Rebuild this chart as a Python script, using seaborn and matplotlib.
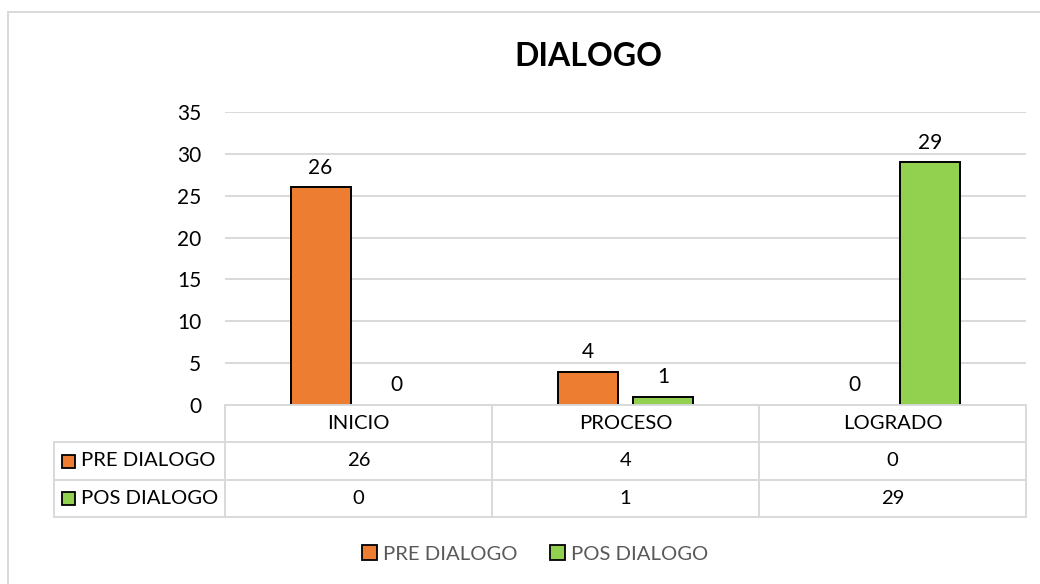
import pandas as pd
import matplotlib
matplotlib.use('Agg')
import matplotlib.pyplot as plt
import matplotlib.transforms as mtransforms
from matplotlib.lines import Line2D
from matplotlib.patches import Patch, Rectangle
import seaborn as sns

categories = ['INICIO', 'PROCESO', 'LOGRADO']
series_names = ['PRE DIALOGO', 'POS DIALOGO']
pre_values = [26, 4, 0]
pos_values = [0, 1, 29]
colors = ['#ED7D31', '#92D050']

df = pd.DataFrame({
    'categoria': categories * 2,
    'serie': [series_names[0]] * 3 + [series_names[1]] * 3,
    'valor': pre_values + pos_values,
})

sns.set_theme(style='white')
plt.rcParams['font.family'] = ['Lato', 'DejaVu Sans']

W, H = 1040, 584
fig = plt.figure(figsize=(W / 100, H / 100), dpi=100)
ax = fig.add_axes([225 / W, 1 - 405 / H, (1026 - 225) / W, (405 - 112) / H])

sns.barplot(data=df, x='categoria', y='valor', hue='serie', order=categories,
            hue_order=series_names, palette=colors, width=0.569, gap=0.21,
            edgecolor='black', linewidth=1.4, saturation=1, legend=False, ax=ax)

for p in ax.patches:
    if p.get_height() == 0:
        p.set_linewidth(0)

fs = 14.6
for c in ax.containers:
    ax.bar_label(c, fmt='%g', padding=7, fontsize=fs + 0.4, color='black')

ax.set_ylim(0, 35)
ax.set_xlim(-0.5, 2.5)
ax.set_yticks(range(0, 36, 5))
ax.yaxis.grid(True, color='#D9D9D9', linewidth=1.4)
ax.set_axisbelow(True)
for s in ax.spines.values():
    s.set_visible(False)
ax.set_xticks([])
ax.set_xlabel('')
ax.set_ylabel('')
ax.tick_params(axis='y', length=0, pad=17, labelsize=fs + 0.4, labelcolor='black')

# data table below the axis
trans = mtransforms.blended_transform_factory(ax.transData, ax.transAxes)
ah = 405 - 112


def ay(py):
    return (405 - py) / ah


x_lab = -0.5 - 171 / 267
x_end = len(categories) - 0.5
grid_c = '#D9D9D9'
lw = 1.4
rows_y = [405, 442, 480, 517]

ax.add_line(Line2D([-0.5, x_end], [ay(405)] * 2, transform=trans, color=grid_c, lw=lw, clip_on=False))
for py in rows_y[1:]:
    ax.add_line(Line2D([x_lab, x_end], [ay(py)] * 2, transform=trans, color=grid_c, lw=lw, clip_on=False))
for i in range(len(categories) + 1):
    ax.add_line(Line2D([i - 0.5] * 2, [ay(405), ay(517)], transform=trans, color=grid_c, lw=lw, clip_on=False))
ax.add_line(Line2D([x_lab] * 2, [ay(442), ay(517)], transform=trans, color=grid_c, lw=lw, clip_on=False))

for i, cat in enumerate(categories):
    ax.text(i, ay(423.5), cat, transform=trans, ha='center', va='center', fontsize=fs, color='black')

for r, (name, vals) in enumerate([(series_names[0], pre_values), (series_names[1], pos_values)]):
    yc = (rows_y[r + 1] + rows_y[r + 2]) / 2
    for i, v in enumerate(vals):
        ax.text(i, ay(yc), f'{v}', transform=trans, ha='center', va='center', fontsize=fs, color='black')
    fig.add_artist(Rectangle((62 / W, 1 - (yc + 6.5) / H), 13 / W, 13 / H,
                             facecolor=colors[r], edgecolor='black', lw=1.3, transform=fig.transFigure))
    fig.text(81 / W, 1 - yc / H, name, ha='left', va='center', fontsize=fs, color='black')

# title
fig.text(588 / W, 1 - 57 / H, 'DIALOGO', ha='center', va='center', fontsize=23, fontweight='bold', color='black')

# legend
handles = [Patch(facecolor=colors[k], edgecolor='black', lw=1.3) for k in range(2)]
fig.legend(handles, series_names, loc='center', bbox_to_anchor=(535 / W, 1 - 554 / H), ncol=2,
           frameon=False, fontsize=fs, labelcolor='#595959', handlelength=0.75, handleheight=0.75,
           handletextpad=0.3, columnspacing=1.6)

# chart border
fig.add_artist(Line2D([8 / W, 8 / W], [0, 1 - 12 / H], color='#D9D9D9', lw=1.4, transform=fig.transFigure))
fig.add_artist(Line2D([8 / W, 1], [1 - 12 / H] * 2, color='#D9D9D9', lw=1.4, transform=fig.transFigure))

fig.savefig('out.png', dpi=100, facecolor='white')
